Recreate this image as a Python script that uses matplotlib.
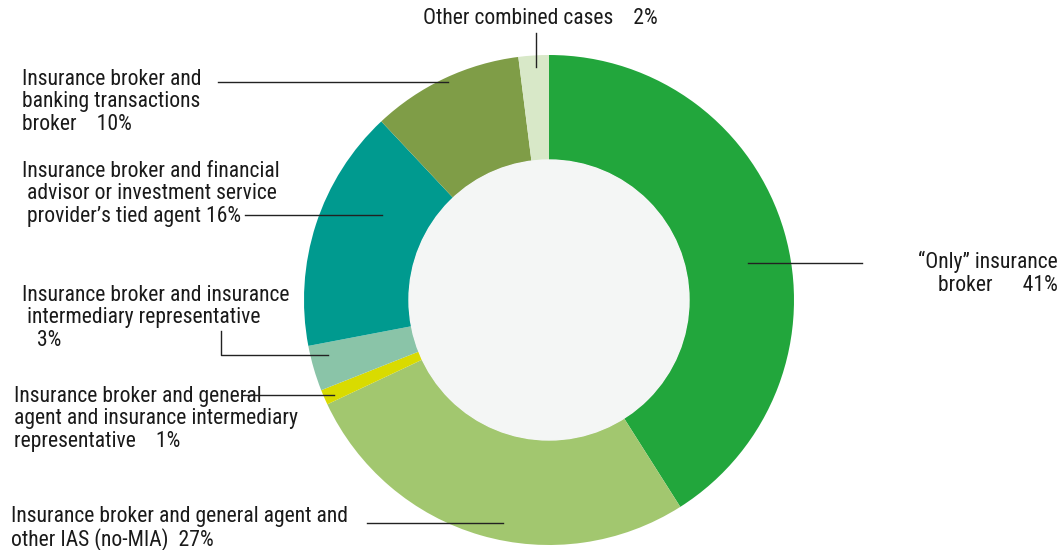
import matplotlib.pyplot as plt
from matplotlib.patches import Circle

plt.rcParams['font.family'] = ['Roboto Condensed', 'DejaVu Sans']

# data, clockwise from 12 o'clock
categories = [
    '\u201cOnly\u201d insurance broker',
    'Insurance broker and general agent and other IAS (no-MIA)',
    'Insurance broker and general agent and insurance intermediary representative',
    'Insurance broker and insurance intermediary representative',
    "Insurance broker and financial advisor or investment service provider\u2019s tied agent",
    'Insurance broker and banking transactions broker',
    'Other combined cases',
]
shares = [41, 27, 1, 3, 16, 10, 2]
colors = ['#22a63c', '#a2c76f', '#d9db00', '#8ac4a8', '#009a8f', '#7f9d47', '#d8e8c8']

W, H = 1062, 550
fig = plt.figure(figsize=(W / 100, H / 100), dpi=100)
ax = fig.add_axes([0, 0, 1, 1])

cx, cy = 549, H - 300
R = 245
ax.pie(shares, colors=colors, startangle=90, counterclock=False,
       radius=R, center=(cx, cy), frame=True,
       wedgeprops=dict(width=R - 140, linewidth=0))
ax.add_patch(Circle((cx, cy), 140, color='#f4f6f5', zorder=3))
ax.set_xlim(0, W)
ax.set_ylim(0, H)
ax.set_aspect('equal')
ax.axis('off')


def px(x, y):
    return x, H - y


# label text blocks: (text, x, top y, ha)
labels = [
    ('\u201cOnly\u201d insurance\nbroker      %d%%' % shares[0], 1058, 251, 'right'),
    ('Insurance broker and general agent and\nother IAS (no-MIA)  %d%%' % shares[1], 11, 506, 'left'),
    ('Insurance broker and general\nagent and insurance intermediary\nrepresentative    %d%%' % shares[2], 14, 386, 'left'),
    ('Insurance broker and insurance\n intermediary representative\n   %d%%' % shares[3], 22, 285, 'left'),
    ('Insurance broker and financial\n advisor or investment service\n provider\u2019s tied agent %d%%' % shares[4], 22, 161, 'left'),
    ('Insurance broker and\nbanking transactions\nbroker    %d%%' % shares[5], 22, 69, 'left'),
    ('Other combined cases    %d%%' % shares[6], 423, 8, 'left'),
]
for txt, x, y, ha in labels:
    ax.text(*px(x, y), txt, ha=ha, va='top', fontsize=15.6, color='#1a1a1a',
            linespacing=1.08, zorder=5)

# leader lines
leaders = [
    [(748, 263), (862, 263)],
    [(367, 523), (503, 523)],
    [(243, 395), (334, 395)],
    [(221, 331), (221, 355), (328, 355)],
    [(245, 215), (382, 215)],
    [(218, 82), (448, 82)],
    [(536, 33), (536, 67)],
]
for pts in leaders:
    xs = [p[0] for p in pts]
    ys = [H - p[1] for p in pts]
    ax.plot(xs, ys, color='#222222', lw=1, zorder=6)

fig.savefig('out.png', dpi=100, facecolor='white')
